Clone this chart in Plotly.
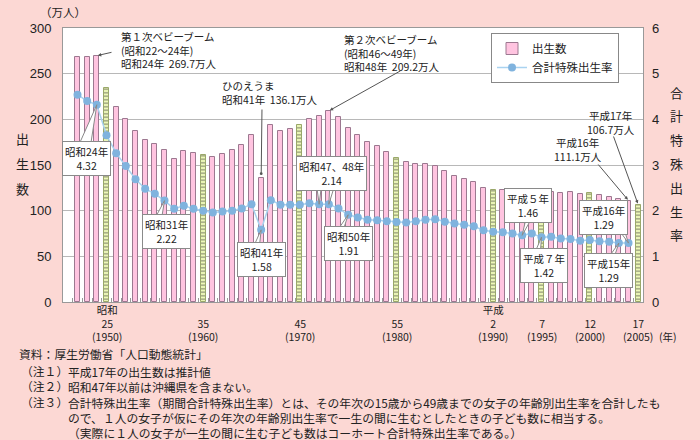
import plotly.graph_objects as go

# ---------------- data ----------------
years = list(range(1947, 2006))
births = [267.9, 268.2, 269.7, 233.8, 213.8, 200.5, 186.8, 177.0, 173.1, 166.5,
          156.7, 165.3, 162.6, 160.6, 158.9, 161.9, 166.0, 171.7, 182.4, 136.1,
          193.6, 187.2, 189.0, 193.4, 200.1, 203.9, 209.2, 203.0, 190.1, 183.3,
          175.5, 170.9, 164.3, 157.7, 152.9, 151.5, 150.9, 149.0, 143.2, 138.3,
          134.7, 131.4, 124.7, 122.2, 122.3, 120.9, 118.8, 123.8, 118.7, 120.7,
          119.2, 120.3, 117.8, 119.1, 117.1, 115.4, 112.4, 111.1, 106.7]
tfr_years = list(range(1947, 2005))
tfr = [4.54, 4.40, 4.32, 3.65, 3.26, 2.98, 2.69, 2.48, 2.37, 2.22,
       2.04, 2.11, 2.04, 2.00, 1.96, 1.98, 2.00, 2.05, 2.14, 1.58,
       2.23, 2.13, 2.13, 2.13, 2.16, 2.14, 2.14, 2.05, 1.91, 1.85,
       1.80, 1.79, 1.77, 1.75, 1.74, 1.77, 1.80, 1.81, 1.76, 1.72,
       1.69, 1.66, 1.57, 1.54, 1.53, 1.50, 1.46, 1.50, 1.42, 1.43,
       1.39, 1.38, 1.34, 1.36, 1.33, 1.32, 1.29, 1.29]
highlight_years = [1950, 1960, 1970, 1980, 1990, 1995, 2000, 2005]
tick_years = [1950, 1960, 1970, 1980, 1990, 1995, 2000, 2005]
tick_era = ["昭和", "", "", "", "平成", "", "", ""]
tick_num = ["25", "35", "45", "55", "2", "7", "12", "17"]
tick_ad = ["(1950)", "(1960)", "(1970)", "(1980)", "(1990)", "(1995)", "(2000)", "(2005)"]

# ---------------- geometry helpers ----------------
W, H = 700, 440
PL, PR, PT, PB = 63, 643, 28, 302
X0, X1 = 1945.5, 2005.5
FONT = "Noto Sans CJK JP"
PAPER = "#fcd8d4"
PINK = "#ffc4e0"
GREEN = "#eef9b8"
CF = 10.5  # callout font size


def fx(px):
    return X0 + (px - PL) / (PR - PL) * (X1 - X0)


def fy2(py):
    return (PB - py) / (PB - PT) * 6


def pxp(px):
    return (px - PL) / (PR - PL)


def pyp(py):
    return (PB - py) / (PB - PT)


fig = go.Figure()

is_hl = [y in highlight_years for y in years]
fig.add_trace(go.Bar(
    x=years, y=births, width=0.55, name="出生数",
    marker=dict(
        color=[GREEN if h else PINK for h in is_hl],
        line=dict(color=["#9aa86a" if h else "#9c7890" for h in is_hl], width=1),
        pattern=dict(shape=["-" if h else "" for h in is_hl], fillmode="overlay",
                     fgcolor="#b6d45c", size=3.5, solidity=0.4),
    ),
))
fig.add_trace(go.Scatter(
    x=tfr_years, y=tfr, yaxis="y2", mode="lines+markers", name="合計特殊出生率",
    line=dict(color="#a9d3f0", width=1.5),
    marker=dict(color="#80b3de", size=8),
))

ann = []
shapes = []


def txt(s, px, py, size=CF, xanchor="left", align="left", **kw):
    ann.append(dict(text=s, x=pxp(px), y=pyp(py), xref="paper", yref="paper",
                    xanchor=xanchor, yanchor="middle", showarrow=False, align=align,
                    font=dict(family=FONT, size=size, color="#222"), **kw))


# axis titles
txt("（万人）", 63, 12, size=11.5, xanchor="center")
for ch, py in zip("出生数", [138, 163, 188]):
    txt(ch, 22, py, size=13, xanchor="center")
for i, ch in enumerate("合計特殊出生率"):
    txt(ch, 676, 92 + i * 23.8, size=13, xanchor="center")

# x tick labels (three stacked lines per tick)
for yr, era, num, ad in zip(tick_years, tick_era, tick_num, tick_ad):
    px = PL + (yr - X0) / (X1 - X0) * (PR - PL)
    top = era if era else "\u00a0"
    txt(top + "<br>" + num + "<br>" + ad, px, 323, size=10.5, xanchor="center", align="center")
txt("(年)", 668, 336.5, size=10.5, xanchor="center")

# births callouts
txt("第１次ベビーブーム<br>(昭和22～24年)<br>昭和24年\u00a0\u00a0269.7万人", 119, 50)
txt("ひのえうま<br>昭和41年\u00a0\u00a0136.1万人", 220, 92)
txt("第２次ベビーブーム<br>(昭和46～49年)<br>昭和48年\u00a0\u00a0209.2万人", 342, 53)
txt("平成17年<br>106.7万人", 611, 123, xanchor="center", align="center")
txt("平成16年<br>111.1万人", 578, 149.5, xanchor="center", align="center")


def arrow(year, val, tail_px, tail_py, head=2, standoff=0):
    ann.append(dict(text="", x=year, y=val, xref="x", yref="y",
                    ax=fx(tail_px), ay=(PB - tail_py) / (PB - PT) * 300,
                    axref="x", ayref="y", showarrow=True, arrowhead=head,
                    arrowsize=0.7, arrowwidth=1, arrowcolor="#555", standoff=standoff))


bmap = dict(zip(years, births))
arrow(1949, bmap[1949], 113, 52, standoff=1)
arrow(1966, bmap[1966], 262, 108, head=6, standoff=4)
arrow(1973, bmap[1973], 402, 70, standoff=1)
arrow(2005, bmap[2005], 613, 135, standoff=1)
arrow(2004, bmap[2004], 597, 163, standoff=1)

# TFR boxed callouts with wedges
tmap = dict(zip(tfr_years, tfr))
wedges = [(1949, 77, 90, 149), (1956, 153, 161, 222), (1966, 252, 259, 250),
          (1972, 316, 322, 181), (1973, 330, 336, 181), (1975, 335, 342, 234),
          (1993, 527, 534, 214), (1995, 533, 540, 257), (2004, 616, 623, 226),
          (2003, 606, 613, 261)]
for yr, bx1, bx2, by in wedges:
    path = "M {:.3f},{:.4f} L {:.3f},{:.4f} L {:.3f},{:.4f} Z".format(
        fx(bx1), fy2(by), yr, tmap[yr], fx(bx2), fy2(by))
    shapes.append(dict(type="path", path=path, xref="x", yref="y2",
                       fillcolor="white", line=dict(color="#8a8a8a", width=1), layer="above"))

boxes = [(86.5, 158.5, "昭和24年<br>4.32"), (166, 231.5, "昭和31年<br>2.22"),
         (261, 259, "昭和41年<br>1.58"), (331, 173.5, "昭和47、48年<br>2.14"),
         (348.5, 243, "昭和50年<br>1.91"), (528, 205.5, "平成５年<br>1.46"),
         (543.5, 265.5, "平成７年<br>1.42"), (603.5, 217.5, "平成16年<br>1.29"),
         (608, 270, "平成15年<br>1.29")]
for bx, by, s in boxes:
    txt(s, bx, by, size=CF, xanchor="center", align="center", bgcolor="white",
        bordercolor="#8a8a8a", borderwidth=1, borderpad=2)

# footer notes
FS = 11.8
LH = FS * 1.3
y1 = 353
y2 = 371
txt("資料：厚生労働省「人口動態統計」", 17, y1, size=FS)
txt("（注１）<br>（注２）<br>（注３）", 19, y2 + LH, size=FS)
txt("平成17年の出生数は推計値<br>"
    "昭和47年以前は沖縄県を含まない。<br>"
    "合計特殊出生率（期間合計特殊出生率）とは、その年次の15歳から49歳までの女子の年齢別出生率を合計したも<br>"
    "ので、１人の女子が仮にその年次の年齢別出生率で一生の間に生むとしたときの子ども数に相当する。<br>"
    "（実際に１人の女子が一生の間に生む子ども数はコーホート合計特殊出生率である。）",
    66, y2 + 2 * LH, size=FS)

fig.update_layout(
    width=W, height=H, autosize=False,
    margin=dict(l=PL, r=W - PR, t=PT, b=H - PB, pad=0),
    paper_bgcolor=PAPER, plot_bgcolor="white",
    font=dict(family=FONT, size=12, color="#222"),
    bargap=0,
    showlegend=True,
    legend=dict(x=pxp(491), y=pyp(33), xanchor="left", yanchor="top",
                bgcolor="white", bordercolor="#888", borderwidth=1,
                font=dict(family=FONT, size=11.5, color="#222"),
                tracegroupgap=0, itemwidth=30),
    xaxis=dict(range=[X0, X1], tickmode="linear", tick0=X0, dtick=1,
               ticks="inside", ticklen=4, tickcolor="#999", showticklabels=False,
               showgrid=False, zeroline=False, showline=True, linecolor="#999",
               mirror=True),
    yaxis=dict(range=[0, 300], tickmode="linear", tick0=0, dtick=50,
               showgrid=True, gridcolor="#b8b8b8", gridwidth=1, zeroline=False,
               showline=True, linecolor="#999", mirror=True, ticks="",
               tickfont=dict(family="Liberation Sans", size=13, color="#222"),
               ticklabelstandoff=8),
    yaxis2=dict(range=[0, 6], tickmode="linear", tick0=0, dtick=1,
                overlaying="y", side="right", showgrid=False, zeroline=False,
                showline=False, ticks="",
                tickfont=dict(family="Liberation Sans", size=13, color="#222"),
                ticklabelstandoff=8),
    annotations=ann,
    shapes=shapes,
)

fig.write_html("out.html", config={"displayModeBar": False},
               post_script="document.body.style.margin='0';document.body.style.overflow='hidden';")
